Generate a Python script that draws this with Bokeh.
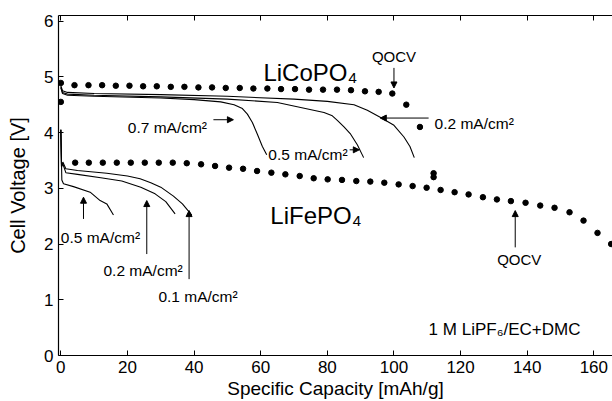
from bokeh.plotting import figure
from bokeh.models import Range1d, LinearAxis, Arrow, NormalHead, ColumnDataSource, FixedTicker
from bokeh.core.properties import value
from bokeh.embed import file_html
from bokeh.resources import INLINE

# ---------------- data ----------------
# LiCoPO4 quasi open circuit voltage (dots)
co_qocv_x = [0, 0, 4.1, 8.3, 12.4, 16.5, 20.6, 24.7, 28.8, 33.0, 37.1, 41.3, 45.4, 49.5, 53.7,
             57.8, 62.0, 66.1, 70.3, 74.5, 78.7, 82.9, 87.1, 91.3, 95.4, 99.5, 103.7, 107.8,
             111.9, 111.9]
co_qocv_v = [4.89, 4.55, 4.85, 4.85, 4.85, 4.84, 4.84, 4.83, 4.83, 4.82, 4.82, 4.81, 4.81, 4.80,
             4.80, 4.79, 4.79, 4.78, 4.78, 4.77, 4.77, 4.77, 4.76, 4.74, 4.73, 4.70, 4.50, 4.10,
             3.27, 3.20]

# LiFePO4 quasi open circuit voltage (dots)
fe_qocv_x = [4.3, 8.4, 12.6, 16.8, 21.0, 25.2, 29.4, 33.6, 37.8, 42.1, 46.3, 50.5, 54.7, 58.9,
             63.2, 67.4, 71.7, 75.9, 80.1, 84.4, 88.7, 92.9, 97.1, 101.4, 105.6, 109.8, 114.0,
             118.2, 122.4, 126.7, 130.9, 135.1, 139.5, 143.9, 148.2, 152.7, 156.9, 161.1, 165.2]
fe_qocv_v = [3.46, 3.46, 3.46, 3.46, 3.46, 3.46, 3.46, 3.46, 3.45, 3.43, 3.40, 3.37, 3.35, 3.31,
             3.28, 3.25, 3.22, 3.18, 3.16, 3.15, 3.13, 3.12, 3.10, 3.07, 3.04, 3.01, 2.97, 2.93,
             2.89, 2.84, 2.80, 2.77, 2.74, 2.69, 2.65, 2.57, 2.42, 2.20, 2.00]

# LiCoPO4 discharge curves
co_02_x = [0, 0.5, 2, 10, 30, 50, 70, 80, 88, 92, 96, 100, 103, 104.8, 106.1]
co_02_v = [4.84, 4.75, 4.72, 4.70, 4.68, 4.65, 4.60, 4.56, 4.50, 4.40, 4.27, 4.13, 3.92, 3.75, 3.55]
co_05_x = [0, 0.5, 2, 10, 30, 50, 65, 72, 79, 81.5, 83, 85, 87, 89, 90.9]
co_05_v = [4.82, 4.72, 4.69, 4.67, 4.64, 4.60, 4.54, 4.45, 4.36, 4.30, 4.22, 4.10, 3.97, 3.78, 3.55]
co_07_x = [0, 0.5, 2, 10, 30, 40, 48, 52, 54.5, 56, 57.5, 59, 60.5, 61.8]
co_07_v = [4.80, 4.70, 4.67, 4.65, 4.62, 4.59, 4.55, 4.50, 4.43, 4.33, 4.18, 3.97, 3.75, 3.60]

# LiFePO4 discharge curves
fe_01_x = [0, 0.2, 0.6, 1.5, 5, 13.8, 20, 23.8, 27, 30, 33.8, 36.5, 39.3]
fe_01_v = [4.05, 3.40, 3.47, 3.35, 3.32, 3.27, 3.22, 3.17, 3.10, 3.02, 2.86, 2.72, 2.52]
fe_02_x = [0, 0.2, 0.6, 1.5, 5, 12, 18.3, 24, 28.3, 31.5, 34.3]
fe_02_v = [4.05, 3.38, 3.44, 3.28, 3.25, 3.19, 3.13, 3.02, 2.90, 2.76, 2.54]
fe_05_x = [0, 0.3, 0.8, 3.8, 8.8, 11.8, 13.8, 15.8]
fe_05_v = [4.05, 3.15, 3.08, 3.03, 2.93, 2.78, 2.72, 2.52]

# tick values
x_ticks = [0, 20, 40, 60, 80, 100, 120, 140, 160]
y_ticks = [0, 1, 2, 3, 4, 5, 6]

# labels
big_labels = ["LiCoPO\u2084", "LiFePO\u2084"]
big_x = [60.8, 62.9]
big_y = [5.07, 2.52]

qocv_labels = ["QOCV", "QOCV"]
qocv_x = [100.0, 137.6]
qocv_y = [5.36, 1.72]

rate_labels = ["0.7 mA/cm\u00b2", "0.5 mA/cm\u00b2", "0.2 mA/cm\u00b2",
               "0.5 mA/cm\u00b2", "0.2 mA/cm\u00b2", "0.1 mA/cm\u00b2"]
rate_x = [20.1, 62.3, 112.2, 0.0, 12.8, 29.3]
rate_y = [4.09, 3.61, 4.17, 2.12, 1.52, 1.05]

electrolyte_label = ["1 M LiPF\u2086/EC+DMC"]
electrolyte_x = [110.4]
electrolyte_y = [0.46]

# arrows (start -> end, data coordinates)
arrow_x0 = [100.0, 136.4, 45.8, 86.7, 110.4, 6.8, 25.8, 38.5]
arrow_y0 = [5.16, 1.94, 4.23, 3.69, 4.26, 2.45, 1.82, 1.37]
arrow_x1 = [100.0, 136.4, 51.8, 89.6, 95.9, 6.8, 25.8, 38.5]
arrow_y1 = [4.80, 2.60, 4.23, 3.69, 4.26, 2.84, 2.78, 2.60]

FONT = "Liberation Sans"

p = figure(width=612, height=401, output_backend="svg", toolbar_location=None,
           x_range=Range1d(-0.7, 165.6), y_range=Range1d(0, 6.1),
           min_border_left=58, min_border_right=0, min_border_top=15, min_border_bottom=40)
p.outline_line_color = None
p.xgrid.visible = False
p.ygrid.visible = False
p.background_fill_color = "white"
p.border_fill_color = "white"

# axes
for ax in (p.xaxis[0], p.yaxis[0]):
    ax.major_tick_in = 5
    ax.major_tick_out = 0
    ax.minor_tick_in = 0
    ax.minor_tick_out = 0
    ax.axis_line_color = "black"
    ax.axis_line_width = 1.2
    ax.major_tick_line_color = "black"
    ax.major_label_text_font = FONT
    ax.major_label_text_font_size = "17px"
    ax.major_label_text_color = "black"
    ax.axis_label_text_font = FONT
    ax.axis_label_text_font_style = "normal"
    ax.axis_label_text_color = "black"

p.xaxis[0].ticker = FixedTicker(ticks=x_ticks)
p.yaxis[0].ticker = FixedTicker(ticks=y_ticks)
p.xaxis[0].axis_label = "Specific Capacity [mAh/g]"
p.yaxis[0].axis_label = "Cell Voltage [V]"
p.xaxis[0].axis_label_text_font_size = "19px"
p.yaxis[0].axis_label_text_font_size = "20px"
p.xaxis[0].major_label_standoff = 5
p.xaxis[0].axis_label_standoff = 2
p.yaxis[0].major_label_standoff = 5
p.yaxis[0].axis_label_standoff = 12

top = LinearAxis(ticker=FixedTicker(ticks=x_ticks))
top.major_tick_in = 5
top.major_tick_out = 0
top.minor_tick_in = 0
top.minor_tick_out = 0
top.major_label_overrides = {t: "" for t in x_ticks}
top.major_label_text_font_size = "10px"
top.major_label_standoff = 0
top.axis_line_color = "black"
top.axis_line_width = 1.0
p.add_layout(top, "above")

# curves
for xs, vs in [(co_02_x, co_02_v), (co_05_x, co_05_v), (co_07_x, co_07_v),
               (fe_01_x, fe_01_v), (fe_02_x, fe_02_v), (fe_05_x, fe_05_v)]:
    p.line(xs, vs, line_color="black", line_width=1.1)

# QOCV dots
p.scatter(co_qocv_x, co_qocv_v, size=5.5, color="black")
p.scatter(fe_qocv_x, fe_qocv_v, size=5.5, color="black")

# arrows
arrow_src = ColumnDataSource(dict(x0=arrow_x0, y0=arrow_y0, x1=arrow_x1, y1=arrow_y1))
p.add_layout(Arrow(source=arrow_src, x_start="x0", y_start="y0", x_end="x1", y_end="y1",
                   line_color="black", line_width=1,
                   end=NormalHead(size=6, fill_color="black", line_color="black", line_width=1)))

# texts
p.text(big_x, big_y, text=big_labels, text_font=value(FONT), text_font_size=value("24px"),
       text_align="left", text_baseline="alphabetic", text_color="black")
p.text(qocv_x, qocv_y, text=qocv_labels, text_font=value(FONT), text_font_size=value("15px"),
       text_align="center", text_baseline="alphabetic", text_color="black")
p.text(rate_x, rate_y, text=rate_labels, text_font=value(FONT), text_font_size=value("15.5px"),
       text_align="left", text_baseline="alphabetic", text_color="black")
p.text(electrolyte_x, electrolyte_y, text=electrolyte_label, text_font=value(FONT),
       text_font_size=value("17px"), text_align="left", text_baseline="alphabetic",
       text_color="black")

open("out.html", "w").write(file_html(p, INLINE))
